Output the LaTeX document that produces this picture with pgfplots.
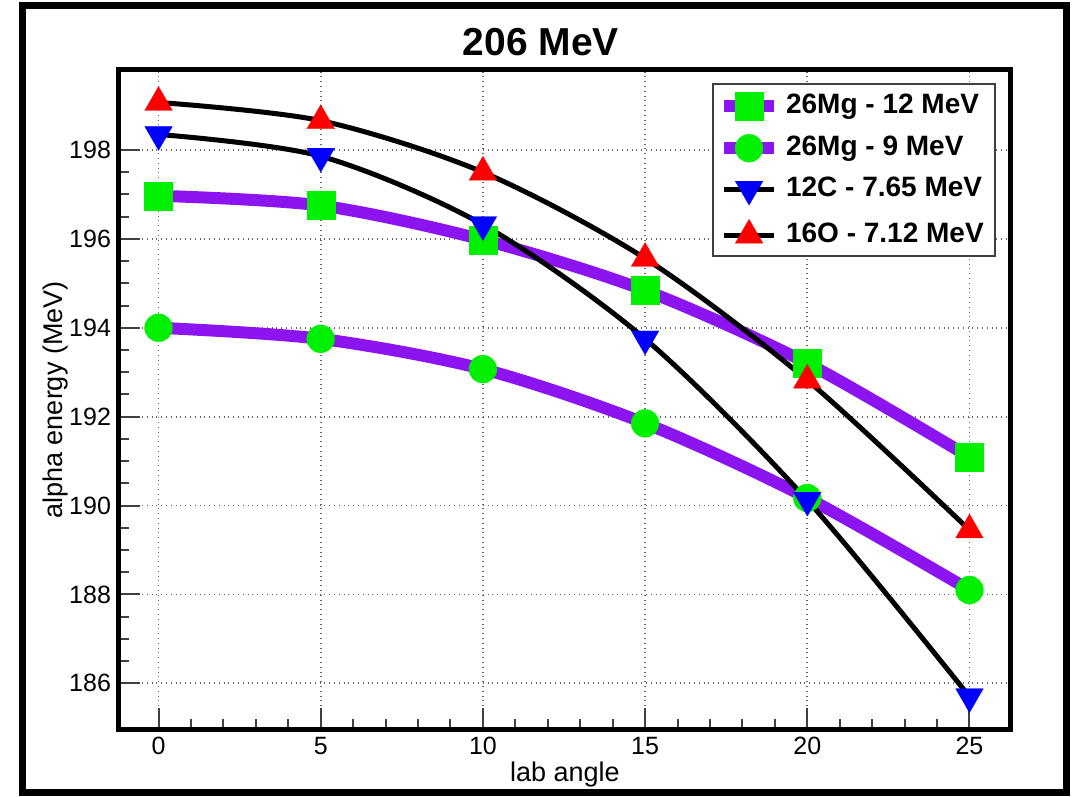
\documentclass[border=0pt]{standalone}
\usepackage{fontspec}
\setmainfont{Liberation Sans}
\usepackage{pgfplots}
\pgfplotsset{compat=1.18}
\definecolor{mgpurple}{RGB}{140,20,240}
\definecolor{mggreen}{RGB}{0,240,0}
\begin{document}
\begin{tikzpicture}[x=0.5pt,y=0.5pt]
\path[use as bounding box] (0,0) rectangle (1079,796);
\draw[line width=3.5pt] (22,4) rectangle (1066,790);
\node[font=\bfseries\fontsize{19.5}{22}\selectfont] at (541,754) {206 MeV};
\coordinate (A) at (118,66);
\begin{axis}[
  at={(A)}, anchor=south west,
  scale only axis, width=446pt, height=330pt,
  xmin=-1.25, xmax=26.25, ymin=184.95, ymax=199.8,
  xtick={0,5,...,25}, ytick={186,188,...,198},
  minor x tick num=4, minor y tick num=3,
  tick align=inside, xtick pos=bottom, ytick pos=left,
  major tick length=11pt, minor tick length=5.5pt,
  tick style={black!75, line width=1pt},
  grid=major, grid style={dotted, black!60, line width=0.9pt},
  axis line style={line width=2.5pt},
  /pgf/number format/assume math mode=true,
  ticklabel style={font=\fontsize{12.5}{15}\selectfont},
  xlabel={lab angle}, ylabel={alpha energy (MeV)},
  label style={font=\fontsize{13.5}{16}\selectfont},
  xlabel style={at={(axis description cs:0.501,-0.068)}, anchor=center},
  ylabel style={at={(axis description cs:-0.0695,0.5)}, anchor=center, rotate=0},
  legend style={at={(0.666,0.980)}, anchor=north west, draw=black!75, line width=1pt,
    fill=white, font=\bfseries\fontsize{14}{16}\selectfont,
    inner xsep=2.5pt, inner ysep=4pt, row sep=7pt,
    nodes={inner xsep=3pt, inner ysep=0pt, text height=10pt, text depth=3pt}},
  legend cell align=left,
  legend image code/.code={\draw[mark repeat=2,mark phase=2,#1] plot coordinates {(0pt,0pt)(12.5pt,0pt)(25pt,0pt)};},
]
\addplot[color=mgpurple, line width=6pt, smooth, mark=square*, mark size=7pt,
  mark options={fill=mggreen, draw=mggreen, line width=0.1pt, solid}]
  coordinates {(0,196.97)(5,196.75)(10,195.98)(15,194.84)(20,193.2)(25,191.09)};
\addlegendentry{26Mg - 12 MeV}
\addplot[color=mgpurple, line width=6pt, smooth, mark=*, mark size=7pt,
  mark options={fill=mggreen, draw=mggreen, line width=0.1pt, solid}]
  coordinates {(0,194.0)(5,193.75)(10,193.07)(15,191.85)(20,190.17)(25,188.1)};
\addlegendentry{26Mg - 9 MeV}
\addplot[color=black, line width=2.5pt, smooth, mark=triangle*, mark size=8pt,
  mark options={fill=blue, draw=blue, line width=0.1pt, solid, rotate=180}]
  coordinates {(0,198.35)(5,197.86)(10,196.32)(15,193.75)(20,190.12)(25,185.7)};
\addlegendentry{12C - 7.65 MeV}
\addplot[color=black, line width=2.5pt, smooth, mark=triangle*, mark size=8pt,
  mark options={fill=red, draw=red, line width=0.1pt, solid}]
  coordinates {(0,199.07)(5,198.66)(10,197.5)(15,195.56)(20,192.82)(25,189.45)};
\addlegendentry{16O - 7.12 MeV}
\end{axis}
\end{tikzpicture}
\end{document}
